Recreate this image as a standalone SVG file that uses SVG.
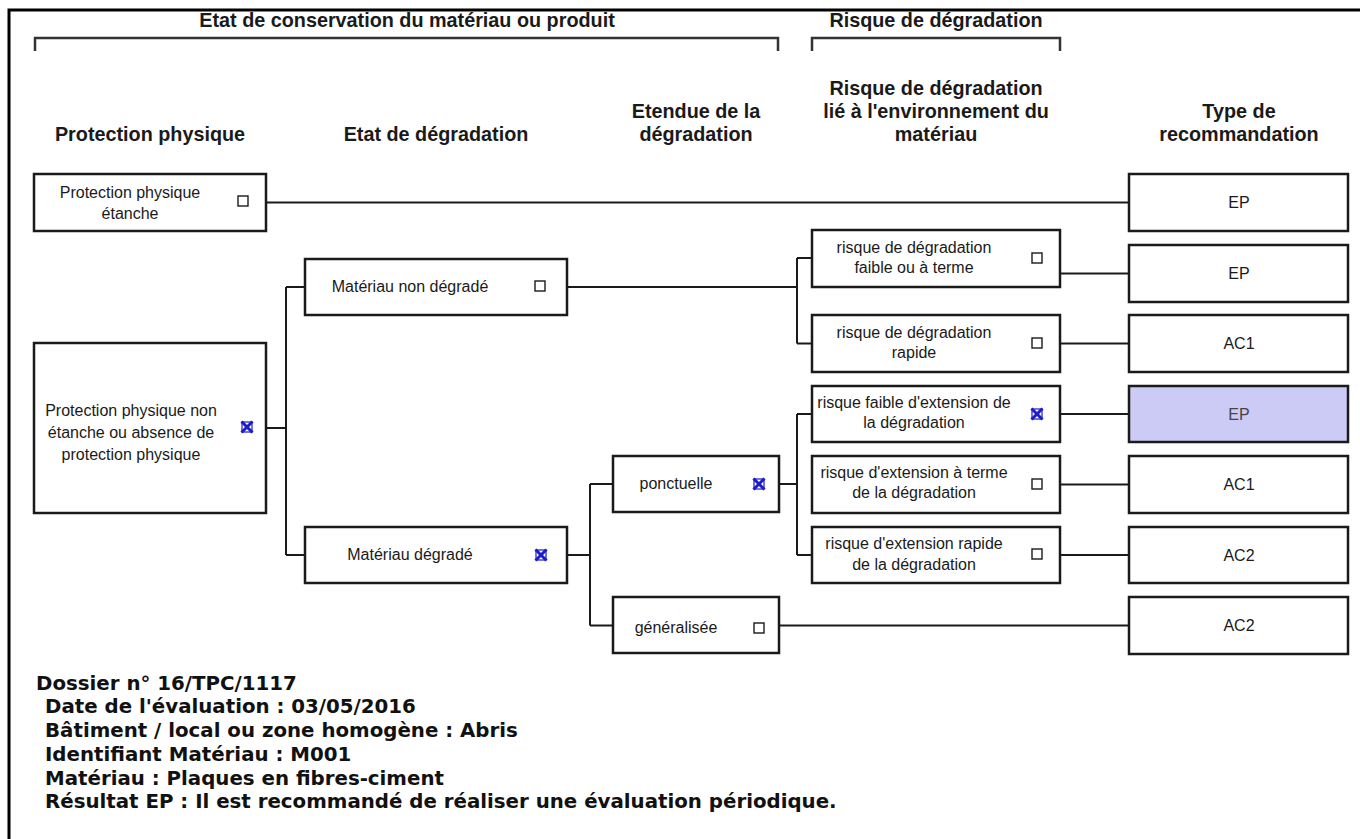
<svg xmlns="http://www.w3.org/2000/svg" width="1360" height="839" viewBox="0 0 1360 839">
<style>
.box{fill:#fff;stroke:#1a1a1a;stroke-width:2.5}
.hl{fill:#cbcbf6;stroke:#1a1a1a;stroke-width:2.5}
.t{font-family:"Liberation Sans",Arial,sans-serif;font-size:16px;fill:#1a1a1a;text-anchor:middle}
.h{font-family:"Liberation Sans",Arial,sans-serif;font-size:19.8px;font-weight:bold;fill:#1a1a1a;text-anchor:middle}
.cb{fill:#fff;stroke:#1a1a1a;stroke-width:1.4}
.x{fill:none;stroke:#1c1cc8;stroke-width:3}
.c{fill:none;stroke:#1a1a1a;stroke-width:2}
.br{fill:none;stroke:#333;stroke-width:2.5}
.b{font-family:"DejaVu Sans",Verdana,sans-serif;font-size:19.8px;font-weight:bold;fill:#111}
</style>
<defs>
<g id="chk"><rect class="cb" x="-5" y="-5" width="10" height="10"/></g>
<g id="xed"><rect x="-5" y="-5" width="10" height="10" fill="none" stroke="#1c1cc8" stroke-width="1.2"/><path class="x" d="M-5.5,-5.5 L5.5,5.5 M5.5,-5.5 L-5.5,5.5"/></g>
</defs>
<rect width="1360" height="839" fill="#fff"/>
<g id="frame">
<path d="M9,839 V10 H1360" fill="none" stroke="#000" stroke-width="3"/>
</g>
<g id="brackets">
<path class="br" d="M35,51 V38 H778 V51"/>
<path class="br" d="M812,51 V38 H1060 V51"/>
<text class="h" x="407" y="27">Etat de conservation du matériau ou produit</text>
<text class="h" x="936" y="27">Risque de dégradation</text>
</g>
<g id="headers">
<text class="h" x="150" y="141">Protection physique</text>
<text class="h" x="436" y="141">Etat de dégradation</text>
<text class="h" x="696" y="118">Etendue de la</text>
<text class="h" x="696" y="141">dégradation</text>
<text class="h" x="936" y="95">Risque de dégradation</text>
<text class="h" x="936" y="118">lié à l'environnement du</text>
<text class="h" x="936" y="141">matériau</text>
<text class="h" x="1239" y="118">Type de</text>
<text class="h" x="1239" y="141">recommandation</text>
</g>
<g id="connectors">
<path class="c" d="M266,202.5 H1129"/>
<path class="c" d="M266,428 H286 M286,287 V555 M286,287 H305 M286,555 H305"/>
<path class="c" d="M567,287 H797 M797,258 V343.5 M797,258 H812 M797,343.5 H812"/>
<path class="c" d="M1060,273.5 H1129 M1060,343.5 H1129"/>
<path class="c" d="M567,555 H590 M590,484 V625.5 M590,484 H613 M590,625.5 H613"/>
<path class="c" d="M779,484 H797 M797,414 V555 M797,414 H812 M797,555 H812"/>
<path class="c" d="M1060,414 H1129 M1060,484.5 H1129 M1060,555 H1129"/>
<path class="c" d="M779,625.5 H1129"/>
</g>
<g id="node-prot-etanche">
<rect class="box" x="34" y="174" width="232" height="57"/>
<text class="t" x="130" y="198">Protection physique</text>
<text class="t" x="130" y="219">étanche</text>
<use href="#chk" x="243" y="201"/>
</g>
<g id="node-prot-non-etanche">
<rect class="box" x="34" y="343" width="232" height="170"/>
<text class="t" x="131" y="416">Protection physique non</text>
<text class="t" x="131" y="438">étanche ou absence de</text>
<text class="t" x="131" y="460">protection physique</text>
<use href="#xed" x="247" y="427"/>
</g>
<g id="node-non-degrade">
<rect class="box" x="305" y="259" width="262" height="56"/>
<text class="t" x="410" y="292">Matériau non dégradé</text>
<use href="#chk" x="540" y="286"/>
</g>
<g id="node-degrade">
<rect class="box" x="305" y="527" width="262" height="56"/>
<text class="t" x="410" y="560">Matériau dégradé</text>
<use href="#xed" x="541" y="555"/>
</g>
<g id="node-ponctuelle">
<rect class="box" x="613" y="456" width="166" height="56"/>
<text class="t" x="676" y="489">ponctuelle</text>
<use href="#xed" x="759" y="484"/>
</g>
<g id="node-generalisee">
<rect class="box" x="613" y="597" width="166" height="56"/>
<text class="t" x="676" y="633">généralisée</text>
<use href="#chk" x="759" y="628"/>
</g>
<g id="node-risque-faible">
<rect class="box" x="812" y="230" width="248" height="57"/>
<text class="t" x="914" y="253">risque de dégradation</text>
<text class="t" x="914" y="273">faible ou à terme</text>
<use href="#chk" x="1037" y="258"/>
</g>
<g id="node-risque-rapide">
<rect class="box" x="812" y="315" width="248" height="57"/>
<text class="t" x="914" y="338">risque de dégradation</text>
<text class="t" x="914" y="358">rapide</text>
<use href="#chk" x="1037" y="343"/>
</g>
<g id="node-ext-faible">
<rect class="box" x="812" y="386" width="248" height="56"/>
<text class="t" x="914" y="408">risque faible d'extension de</text>
<text class="t" x="914" y="428">la dégradation</text>
<use href="#xed" x="1037" y="414"/>
</g>
<g id="node-ext-terme">
<rect class="box" x="812" y="456" width="248" height="57"/>
<text class="t" x="914" y="478">risque d'extension à terme</text>
<text class="t" x="914" y="498">de la dégradation</text>
<use href="#chk" x="1037" y="484"/>
</g>
<g id="node-ext-rapide">
<rect class="box" x="812" y="527" width="248" height="56"/>
<text class="t" x="914" y="549">risque d'extension rapide</text>
<text class="t" x="914" y="570">de la dégradation</text>
<use href="#chk" x="1037" y="554"/>
</g>
<g id="rec-1"><rect class="box" x="1129" y="174" width="219" height="57"/><text class="t" x="1239" y="208">EP</text></g>
<g id="rec-2"><rect class="box" x="1129" y="245" width="219" height="57"/><text class="t" x="1239" y="279">EP</text></g>
<g id="rec-3"><rect class="box" x="1129" y="315" width="219" height="57"/><text class="t" x="1239" y="349">AC1</text></g>
<g id="rec-4"><rect class="hl" x="1129" y="386" width="219" height="56"/><text class="t" x="1239" y="420" style="fill:#444">EP</text></g>
<g id="rec-5"><rect class="box" x="1129" y="456" width="219" height="57"/><text class="t" x="1239" y="490">AC1</text></g>
<g id="rec-6"><rect class="box" x="1129" y="527" width="219" height="56"/><text class="t" x="1239" y="561">AC2</text></g>
<g id="rec-7"><rect class="box" x="1129" y="597" width="219" height="57"/><text class="t" x="1239" y="631">AC2</text></g>
<g id="footer">
<text class="b" x="36" y="690">Dossier n° 16/TPC/1117</text>
<text class="b" x="45" y="713">Date de l'évaluation : 03/05/2016</text>
<text class="b" x="45" y="737">Bâtiment / local ou zone homogène : Abris</text>
<text class="b" x="45" y="761">Identifiant Matériau : M001</text>
<text class="b" x="45" y="785">Matériau : Plaques en fibres-ciment</text>
<text class="b" x="45" y="808">Résultat EP : Il est recommandé de réaliser une évaluation périodique.</text>
</g>
</svg>
